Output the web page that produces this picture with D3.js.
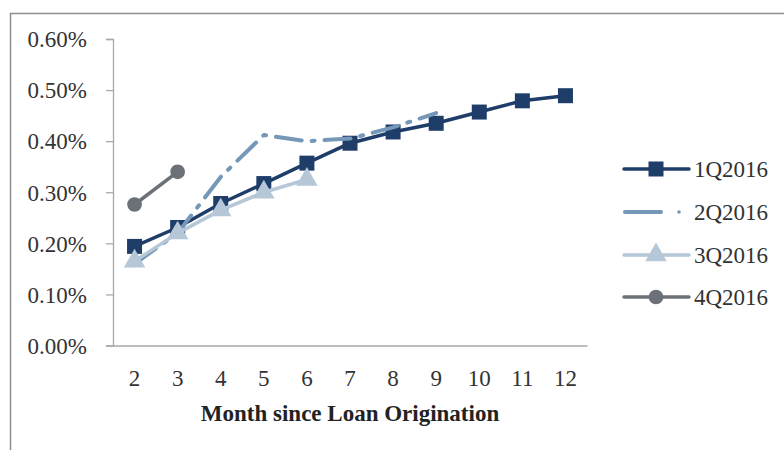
<!DOCTYPE html>
<html><head><meta charset="utf-8">
<script src="https://cdn.jsdelivr.net/npm/d3@7"></script>
<style>body{margin:0;background:#fff}svg{display:block}</style>
</head><body>
<script>
const months = [2,3,4,5,6,7,8,9,10,11,12];
const yTicks = [0,0.001,0.002,0.003,0.004,0.005,0.006];
const s1Q = [0.00194,0.00231,0.00278,0.00317,0.00357,0.00396,0.00418,0.00435,0.00457,0.00479,0.00489];
const s2Q = [0.00160,0.00220,0.00330,0.00412,0.00400,0.00405,0.00427,0.00455];
const s3Q = [0.00165,0.00220,0.00265,0.00300,0.00325];
const s4Q = [0.00276,0.00340];
const seriesNames = ["1Q2016","2Q2016","3Q2016","4Q2016"];

const W=784,H=450;
const svg=d3.select("body").append("svg").attr("width",W).attr("height",H);
const font="'Liberation Serif','Times New Roman',serif";
const fs=23;

// frame
svg.append("path").attr("d",`M10.5,${H} L10.5,13.5 L${W},13.5`).attr("fill","none").attr("stroke","#8f8f8f").attr("stroke-width",1.5);

const x=d3.scaleBand().domain(months).range([113,587]);
const y=d3.scaleLinear().domain([0,0.006]).range([345.5,39]);
const cx=m=>x(m)+x.bandwidth()/2;

// y axis
const yAx=svg.append("g").attr("transform","translate(113,0)")
 .call(d3.axisLeft(y).tickValues(yTicks).tickSize(7).tickPadding(19).tickFormat(d3.format(".2%")));
yAx.select(".domain").attr("stroke","#a8a8a8").attr("stroke-width",1.3);
yAx.selectAll(".tick line").attr("stroke","#a8a8a8").attr("stroke-width",1.3);
yAx.selectAll("text").attr("font-family",font).attr("font-size",fs).attr("fill","#333").attr("dy","0.34em");

// x axis
const xAx=svg.append("g").attr("transform","translate(0,345.5)")
 .call(d3.axisBottom(x).tickSize(0).tickPadding(24));
xAx.select(".domain").attr("stroke","#a8a8a8").attr("stroke-width",1.3);
xAx.selectAll("text").attr("font-family",font).attr("font-size",fs).attr("fill","#333");

svg.append("text").attr("x",350).attr("y",421).attr("text-anchor","middle")
 .attr("font-family",font).attr("font-size",fs).attr("font-weight","bold").attr("fill","#222")
 .text("Month since Loan Origination");

const line=d3.line().x((d,i)=>cx(months[i])).y(d=>y(d));
const styles=[
 {data:s1Q,color:"#1e3d68",marker:"square",dash:null,w:3.5},
 {data:s2Q,color:"#7597b8",marker:null,dash:"26,10,3,10",w:4},
 {data:s3Q,color:"#b6c7d7",marker:"triangle",dash:null,w:3.5},
 {data:s4Q,color:"#6c7177",marker:"circle",dash:null,w:3.5}
];
const sym={square:d3.symbol().type(d3.symbolSquare).size(225),
 triangle:d3.symbol().type(d3.symbolTriangle).size(200),
 circle:d3.symbol().type(d3.symbolCircle).size(170)};

styles.forEach(s=>{
 const p=svg.append("path").datum(s.data).attr("d",line).attr("fill","none")
  .attr("stroke",s.color).attr("stroke-width",s.w).attr("stroke-linejoin","round");
 if(s.dash) p.attr("stroke-dasharray",s.dash).attr("stroke-linecap","round");
 if(s.marker){
  svg.append("g").selectAll("path").data(s.data).join("path")
   .attr("d",sym[s.marker]).attr("fill",s.color)
   .attr("transform",(d,i)=>`translate(${cx(months[i])},${y(d)})`);
 }
});

// legend
const lg=svg.append("g");
const ly=[169,212,255,297];
styles.forEach((s,i)=>{
 const g=lg.append("g").attr("transform",`translate(0,${ly[i]})`);
 if(s.dash){
  g.append("line").attr("x1",625).attr("x2",661).attr("y1",0).attr("y2",0)
   .attr("stroke",s.color).attr("stroke-width",s.w).attr("stroke-linecap","round");
  g.append("circle").attr("cx",679).attr("cy",0).attr("r",1.8).attr("fill",s.color);
 } else {
  g.append("line").attr("x1",624).attr("x2",689).attr("y1",0).attr("y2",0)
   .attr("stroke",s.color).attr("stroke-width",s.w).attr("stroke-linecap","round");
  g.append("path").attr("d",sym[s.marker]).attr("fill",s.color).attr("transform","translate(656,0)");
 }
 g.append("text").attr("x",694).attr("y",0).attr("dy","0.35em").attr("font-family",font)
  .attr("font-size",fs).attr("fill","#333").text(seriesNames[i]);
});
</script>
</body></html>
